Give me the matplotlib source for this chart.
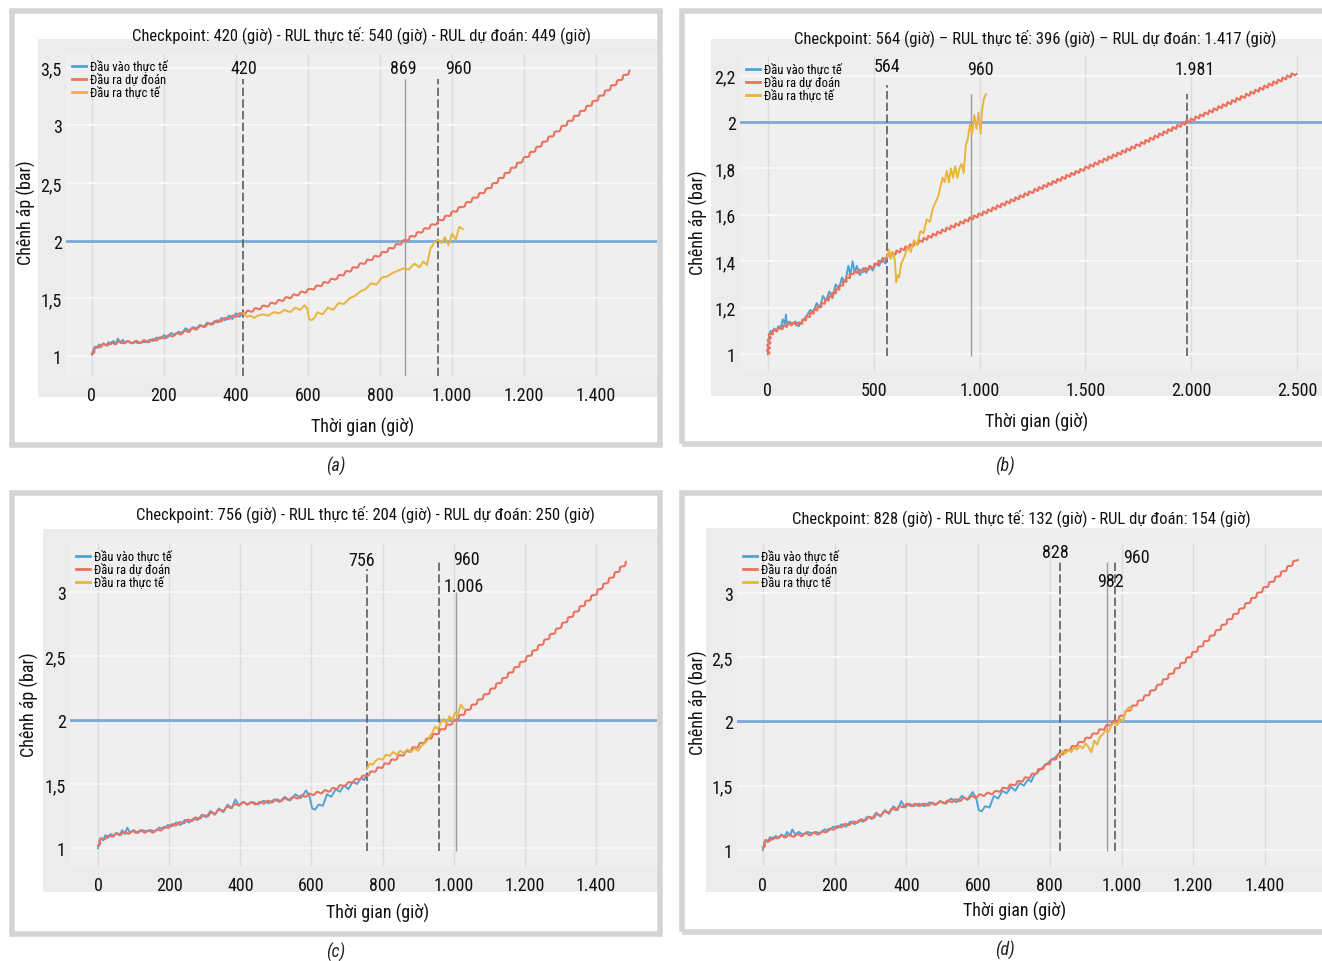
'''
Ve lai hinh 4 panel: chenh ap theo thoi gian, du doan RUL tai cac checkpoint
'''
import matplotlib
matplotlib.use('Agg')
import matplotlib.pyplot as plt
import matplotlib.font_manager as fm
from matplotlib.lines import Line2D
from matplotlib.patches import Rectangle

# ---------------- du lieu panel (a) ----------------
a_in_t = [0, 4, 8, 14, 20, 26, 32, 40, 46, 52, 60, 66, 72, 80, 86, 92, 100, 110, 120, 130,
          140, 150, 160, 170, 180, 190, 200, 210, 220, 230, 240, 250, 260, 270, 280, 290, 300, 310, 320, 330,
          340, 350, 360, 370, 380, 390, 400, 410, 420]
a_in_v = [1.01, 1.05, 1.08, 1.07, 1.10, 1.08, 1.11, 1.09, 1.12, 1.10, 1.13, 1.10, 1.15, 1.11, 1.14, 1.11, 1.13, 1.11, 1.12, 1.11,
          1.12, 1.12, 1.14, 1.13, 1.16, 1.15, 1.18, 1.16, 1.20, 1.18, 1.21, 1.20, 1.24, 1.22, 1.25, 1.24, 1.27, 1.25, 1.29, 1.27,
          1.30, 1.29, 1.33, 1.31, 1.35, 1.32, 1.37, 1.34, 1.38]
a_pred_t = [0, 15, 40, 80, 120, 160, 200, 250, 300, 350, 420, 480, 540, 610, 680, 744, 800, 869, 960, 1030,
            1100, 1200, 1300, 1400, 1494]
a_pred_v = [1.02, 1.08, 1.10, 1.12, 1.12, 1.13, 1.16, 1.20, 1.25, 1.30, 1.37, 1.43, 1.50, 1.58, 1.68, 1.79, 1.88, 2.00, 2.16, 2.30,
            2.45, 2.71, 2.97, 3.22, 3.47]
a_out_t = [420, 430, 440, 450, 460, 475, 490, 505, 520, 535, 550, 565, 578, 590, 598, 603, 610, 618, 626, 640,
           655, 670, 685, 700, 715, 730, 745, 760, 775, 790, 805, 820, 835, 850, 865, 880, 895, 910, 920, 930,
           940, 950, 960, 970, 980, 990, 1000, 1010, 1020, 1030]
a_out_v = [1.37, 1.34, 1.35, 1.33, 1.35, 1.36, 1.35, 1.38, 1.37, 1.40, 1.38, 1.42, 1.40, 1.44, 1.41, 1.32, 1.31, 1.33, 1.38, 1.36,
           1.42, 1.40, 1.46, 1.45, 1.50, 1.52, 1.56, 1.58, 1.63, 1.62, 1.68, 1.69, 1.72, 1.74, 1.76, 1.75, 1.80, 1.77, 1.82, 1.79,
           1.93, 1.98, 2.01, 1.98, 2.03, 1.96, 2.06, 2.01, 2.12, 2.10]
a_mark_x = [420, 869, 960]
a_mark_ls = ['--', '-', '--']
a_mark_top = [3.40, 3.40, 3.40]
a_lab_txt = ['420', '869', '960']
a_lab_x = [422, 864, 1017]
a_lab_y = [3.5, 3.5, 3.5]

# ---------------- du lieu panel (b) ----------------
b_in_t = [0, 3, 6, 12, 20, 30, 40, 50, 60, 70, 80, 85, 90, 100, 115, 130, 145, 160, 180, 200,
          215, 230, 245, 260, 275, 290, 305, 320, 335, 350, 365, 380, 390, 400, 410, 420, 435, 450, 465, 480,
          495, 510, 525, 540, 555, 564]
b_in_v = [1.00, 1.06, 1.08, 1.10, 1.09, 1.11, 1.10, 1.12, 1.11, 1.15, 1.13, 1.17, 1.12, 1.14, 1.13, 1.14, 1.12, 1.14, 1.16, 1.19,
          1.18, 1.22, 1.20, 1.25, 1.23, 1.27, 1.24, 1.30, 1.28, 1.33, 1.31, 1.38, 1.34, 1.40, 1.35, 1.38, 1.34, 1.37, 1.35, 1.38,
          1.36, 1.39, 1.38, 1.41, 1.39, 1.42]
b_pred_t = [0, 8, 30, 60, 100, 150, 200, 250, 300, 350, 400, 450, 500, 564, 800, 1000, 1250, 1500, 1750, 1981,
            2250, 2495]
b_pred_v = [1.00, 1.08, 1.10, 1.11, 1.13, 1.13, 1.17, 1.21, 1.25, 1.30, 1.35, 1.36, 1.38, 1.42, 1.52, 1.60, 1.70, 1.80, 1.90, 2.00,
            2.11, 2.21]
b_out_t = [564, 572, 580, 590, 600, 606, 612, 620, 630, 645, 660, 675, 690, 705, 720, 735, 750, 765, 780, 795,
           805, 815, 825, 835, 845, 855, 865, 875, 885, 895, 905, 915, 925, 935, 945, 955, 965, 975, 985, 995,
           1005, 1012, 1020, 1030]
b_out_v = [1.42, 1.45, 1.41, 1.44, 1.40, 1.31, 1.34, 1.33, 1.39, 1.42, 1.46, 1.44, 1.49, 1.47, 1.53, 1.52, 1.58, 1.57, 1.63, 1.66,
           1.68, 1.72, 1.76, 1.74, 1.79, 1.74, 1.80, 1.76, 1.81, 1.76, 1.80, 1.82, 1.78, 1.90, 1.93, 1.99, 1.95, 2.03, 1.97, 2.04,
           1.95, 2.05, 2.10, 2.12]
b_mark_x = [564, 960, 1981]
b_mark_ls = ['--', '-', '--']
b_mark_top = [2.16, 2.12, 2.12]
b_lab_txt = ['564', '960', '1.981']
b_lab_x = [562, 1002, 2018]
b_lab_y = [2.24, 2.23, 2.23]

# ---------------- du lieu dau vao chung cho panel (c), (d) ----------------
cd_in_t = [0, 4, 8, 14, 20, 28, 36, 44, 52, 60, 68, 76, 82, 90, 100, 112, 124, 136, 148, 160,
           172, 184, 196, 208, 220, 232, 244, 256, 268, 280, 292, 304, 316, 328, 340, 352, 364, 376, 386, 396,
           408, 420, 435, 450, 465, 480, 495, 510, 525, 540, 555, 570, 585, 595, 602, 610, 620, 632, 644, 656,
           668, 680, 692, 704, 716, 728, 740, 748, 756, 768, 780, 792, 804, 816, 828]
cd_in_v = [1.00, 1.05, 1.08, 1.06, 1.10, 1.08, 1.11, 1.09, 1.12, 1.10, 1.14, 1.11, 1.16, 1.12, 1.14, 1.12, 1.14, 1.13, 1.14, 1.13,
           1.16, 1.15, 1.18, 1.17, 1.20, 1.18, 1.22, 1.20, 1.23, 1.22, 1.26, 1.24, 1.29, 1.26, 1.31, 1.28, 1.34, 1.31, 1.38, 1.33,
           1.36, 1.34, 1.36, 1.34, 1.37, 1.35, 1.38, 1.36, 1.40, 1.37, 1.42, 1.39, 1.45, 1.40, 1.31, 1.30, 1.34, 1.33, 1.42, 1.40,
           1.46, 1.44, 1.49, 1.46, 1.52, 1.50, 1.55, 1.53, 1.58, 1.61, 1.64, 1.67, 1.70, 1.72, 1.76]

# ---------------- du lieu panel (c) ----------------
c_check = 756
c_pred_t = [0, 10, 40, 80, 120, 160, 200, 250, 300, 350, 400, 450, 500, 550, 600, 650, 700, 756, 800, 850,
            900, 960, 1006, 1100, 1200, 1300, 1400, 1486]
c_pred_v = [1.02, 1.07, 1.10, 1.12, 1.13, 1.13, 1.17, 1.21, 1.25, 1.30, 1.35, 1.35, 1.37, 1.39, 1.42, 1.45, 1.50, 1.57, 1.64, 1.72,
            1.80, 1.91, 2.00, 2.22, 2.47, 2.73, 2.99, 3.23]
c_out_t = [756, 764, 772, 780, 790, 800, 810, 820, 830, 840, 850, 860, 870, 880, 890, 900, 910, 920, 930, 940,
           948, 956, 964, 972, 980, 988, 996, 1004, 1012, 1020, 1028]
c_out_v = [1.62, 1.66, 1.65, 1.68, 1.70, 1.69, 1.73, 1.72, 1.75, 1.73, 1.76, 1.74, 1.77, 1.75, 1.78, 1.76, 1.80, 1.82, 1.86, 1.90,
           1.95, 1.93, 1.98, 2.01, 1.97, 2.03, 2.00, 2.06, 2.04, 2.12, 2.09]
c_mark_x = [756, 960, 1006]
c_mark_ls = ['--', '--', '-']
c_mark_top = [3.18, 3.24, 3.00]
c_lab_txt = ['756', '960', '1.006']
c_lab_x = [742, 1037, 1029]
c_lab_y = [3.25, 3.26, 3.05]

# ---------------- du lieu panel (d) ----------------
d_check = 828
d_pred_t = [0, 10, 40, 80, 120, 160, 200, 250, 300, 350, 400, 450, 500, 550, 600, 650, 700, 750, 800, 828,
            900, 982, 1100, 1200, 1300, 1400, 1490]
d_pred_v = [1.02, 1.07, 1.10, 1.11, 1.12, 1.13, 1.17, 1.21, 1.25, 1.30, 1.35, 1.35, 1.37, 1.39, 1.42, 1.45, 1.51, 1.58, 1.68, 1.74,
            1.86, 2.00, 2.27, 2.53, 2.79, 3.04, 3.26]
d_out_t = [828, 836, 844, 852, 860, 868, 876, 884, 892, 900, 908, 916, 924, 932, 940, 948, 956, 964, 972, 980,
           988, 996, 1004, 1012, 1020, 1028]
d_out_v = [1.74, 1.77, 1.75, 1.78, 1.76, 1.80, 1.78, 1.81, 1.79, 1.83, 1.80, 1.76, 1.85, 1.82, 1.88, 1.90, 1.93, 1.92, 1.97, 1.99,
           1.97, 2.02, 2.00, 2.08, 2.11, 2.09]
d_mark_x = [828, 960, 982]
d_mark_ls = ['--', '-', '--']
d_mark_top = [3.24, 3.24, 3.24]
d_lab_txt = ['828', '960', '982']
d_lab_x = [817, 1043, 968]
d_lab_y = [3.32, 3.28, 3.09]

# ---------------- chu, nhan truc ----------------
titles = ['Checkpoint: 420 (giờ) - RUL thực tế: 540 (giờ) - RUL dự đoán: 449 (giờ)',
          'Checkpoint: 564 (giờ) – RUL thực tế: 396 (giờ) – RUL dự đoán: 1.417 (giờ)',
          'Checkpoint: 756 (giờ) - RUL thực tế: 204 (giờ) - RUL dự đoán: 250 (giờ)',
          'Checkpoint: 828 (giờ) - RUL thực tế: 132 (giờ) - RUL dự đoán: 154 (giờ)']
captions = ['(a)', '(b)', '(c)', '(d)']
legend_names = ['Đầu vào thực tế', 'Đầu ra dự đoán', 'Đầu ra thực tế']
threshold = 2.0

xt_1400 = [0, 200, 400, 600, 800, 1000, 1200, 1400]
xl_1400 = ['0', '200', '400', '600', '800', '1.000', '1.200', '1.400']
xt_2500 = [0, 500, 1000, 1500, 2000, 2500]
xl_2500 = ['0', '500', '1.000', '1.500', '2.000', '2.500']
yt_a = [1, 1.5, 2, 2.5, 3, 3.5]
yl_a = ['1', '1,5', '2', '2,5', '3', '3,5']
yt_b = [1, 1.2, 1.4, 1.6, 1.8, 2, 2.2]
yl_b = ['1', '1,2', '1,4', '1,6', '1,8', '2', '2,2']
yt_cd = [1, 1.5, 2, 2.5, 3]
yl_cd = ['1', '1,5', '2', '2,5', '3']

c_blue = '#4ea3d8'
c_red = '#ea725f'
c_yel = '#e9b53c'
c_thr = '#7ba8d6'

W, H = 1322, 962


def pick_font():
    # chon font hep (condensed) neu co, khong thi dung Liberation Sans
    fl = fm.fontManager.ttflist
    for name in ['Liberation Sans Narrow', 'Roboto Condensed', 'Open Sans Condensed', 'Noto Sans Condensed']:
        if any(f.name == name for f in fl):
            return [name, 'DejaVu Sans'], 'normal', 1.0
    for name in ['DejaVu Sans', 'Noto Sans', 'Roboto', 'Open Sans']:
        if any(f.name == name and str(f.stretch) in ('condensed', 'semi-condensed') for f in fl):
            return [name, 'DejaVu Sans'], 'condensed', 0.95
    return ['Liberation Sans', 'DejaVu Sans'], 'normal', 0.86


FAMILY, STRETCH, FSCALE = pick_font()
plt.rcParams['font.family'] = FAMILY
plt.rcParams['font.stretch'] = STRETCH


def fs(x):
    return x * FSCALE


def fr(l, t, r, b):
    # toa do pixel -> phan so cua figure
    return [l / W, 1 - b / H, (r - l) / W, (b - t) / H]


def paint_panel(fig, lay, series, marks, ticks, title, caption):
    # khung xam ngoai va nen
    fx0, fy0, fx1, fy1 = lay['frame']
    fig.patches.append(Rectangle((fx0 / W, 1 - fy1 / H), (fx1 - fx0) / W, (fy1 - fy0) / H,
                                 transform=fig.transFigure, fill=False, edgecolor='#d4d4d4', lw=4, zorder=-2))
    gx0, gy0, gx1, gy1 = lay['bg']
    fig.patches.append(Rectangle((gx0 / W, 1 - gy1 / H), (gx1 - gx0) / W, (gy1 - gy0) / H,
                                 transform=fig.transFigure, facecolor='#ececec', edgecolor='none', zorder=-2))

    ax = fig.add_axes(fr(*lay['ax']))
    ax.set_facecolor('#efefef')
    for s in ax.spines.values():
        s.set_visible(False)

    xt, xl, yt, yl = ticks
    ax.set_xticks(xt)
    ax.set_xticklabels(xl)
    ax.set_yticks(yt)
    ax.set_yticklabels(yl)
    ax.tick_params(length=0, labelsize=fs(13), colors='#111111')
    ax.tick_params(axis='x', pad=7)
    ax.tick_params(axis='y', pad=3)
    ax.set_xlim(*lay['xlim'])
    ax.set_ylim(*lay['ylim'])
    for x in xt:
        ax.axvline(x, color='#dcdcdc', lw=1, zorder=0.5)
    for y in yt:
        ax.axhline(y, color='#f7f7f7', lw=1.5, zorder=0.5)

    ax.axhline(threshold, color=c_thr, lw=2, zorder=1.5)

    (it, iv), (pt, pv), (ot, ov) = series
    ax.plot(it, iv, color=c_blue, lw=1.4, zorder=2)
    ln, = ax.plot(pt, pv, color=c_red, lw=1.5, zorder=3)
    ln.set_sketch_params(scale=lay['wig'][0], length=lay['wig'][1], randomness=1)
    ax.plot(ot, ov, color=c_yel, lw=1.4, zorder=4)

    mx, mls, mtop, mbot, ltxt, lx, ly = marks
    for x, ls, top in zip(mx, mls, mtop):
        if ls == '--':
            ax.vlines(x, mbot, top, colors='#5e5e5e', linestyles=(0, (5, 2)), lw=1.2, zorder=2.5)
        else:
            ax.vlines(x, mbot, top, colors='#9c9c9c', linestyles='-', lw=1.0, zorder=2.5)
    for t, x, y in zip(ltxt, lx, ly):
        ax.text(x, y, t, ha='center', va='center', fontsize=fs(13), color='#111111')

    handles = [Line2D([], [], color=c, lw=2) for c in (c_blue, c_red, c_yel)]
    ax.legend(handles, legend_names, loc='upper left', bbox_to_anchor=(0.0, 1.0), frameon=False,
              fontsize=fs(9), handlelength=1.1, handletextpad=0.3, labelspacing=0.0,
              borderaxespad=0.3, borderpad=0.2)

    tx, ty = lay['title']
    fig.text(tx / W, 1 - ty / H, title, ha='center', va='center', fontsize=fs(12), color='#111111')
    xx, xy = lay['xlab']
    fig.text(xx / W, 1 - xy / H, 'Thời gian (giờ)', ha='center', va='center', fontsize=fs(13), color='#111111')
    yx, yy = lay['ylab']
    fig.text(yx / W, 1 - yy / H, 'Chênh áp (bar)', ha='center', va='center', rotation=90,
             fontsize=fs(13), color='#111111')
    cx, cy = lay['cap']
    fig.text(cx / W, 1 - cy / H, caption, ha='center', va='center', fontsize=fs(13), style='italic',
             color='#222222')


def main():
    fig = plt.figure(figsize=(W / 100, H / 100), dpi=100)

    lay_a = dict(frame=(12, 12, 660, 446), bg=(38, 40, 657, 398), ax=(66, 55, 657, 377),
                 xlim=(-72, 1569), ylim=(0.826, 3.62), wig=(1.2, 8),
                 title=(362, 35), xlab=(363, 427), ylab=(26, 213), cap=(336, 466))
    lay_b = dict(frame=(682, 12, 1335, 445), bg=(711, 40, 1322, 397), ax=(740, 58, 1322, 372),
                 xlim=(-132, 2618), ylim=(0.927, 2.28), wig=(1.6, 5),
                 title=(1035, 38), xlab=(1037, 422), ylab=(698, 223), cap=(1005, 466))
    lay_c = dict(frame=(12, 494, 660, 935), bg=(43, 530, 657, 893), ax=(70, 545, 657, 867),
                 xlim=(-79, 1572), ylim=(0.86, 3.375), wig=(1.2, 8),
                 title=(365, 514), xlab=(378, 913), ylab=(29, 705), cap=(336, 952))
    lay_d = dict(frame=(682, 494, 1335, 933), bg=(706, 529, 1322, 893), ax=(737, 545, 1322, 867),
                 xlim=(-72, 1559), ylim=(0.875, 3.38), wig=(1.2, 8),
                 title=(1021, 518), xlab=(1015, 911), ylab=(698, 703), cap=(1005, 950))

    c_in_t = [t for t in cd_in_t if t <= c_check]
    c_in_v = cd_in_v[:len(c_in_t)]
    d_in_t = [t for t in cd_in_t if t <= d_check]
    d_in_v = cd_in_v[:len(d_in_t)]

    paint_panel(fig, lay_a,
                [(a_in_t, a_in_v), (a_pred_t, a_pred_v), (a_out_t, a_out_v)],
                (a_mark_x, a_mark_ls, a_mark_top, 0.826, a_lab_txt, a_lab_x, a_lab_y),
                (xt_1400, xl_1400, yt_a, yl_a), titles[0], captions[0])
    paint_panel(fig, lay_b,
                [(b_in_t, b_in_v), (b_pred_t, b_pred_v), (b_out_t, b_out_v)],
                (b_mark_x, b_mark_ls, b_mark_top, 0.99, b_lab_txt, b_lab_x, b_lab_y),
                (xt_2500, xl_2500, yt_b, yl_b), titles[1], captions[1])
    paint_panel(fig, lay_c,
                [(c_in_t, c_in_v), (c_pred_t, c_pred_v), (c_out_t, c_out_v)],
                (c_mark_x, c_mark_ls, c_mark_top, 0.98, c_lab_txt, c_lab_x, c_lab_y),
                (xt_1400, xl_1400, yt_cd, yl_cd), titles[2], captions[2])
    paint_panel(fig, lay_d,
                [(d_in_t, d_in_v), (d_pred_t, d_pred_v), (d_out_t, d_out_v)],
                (d_mark_x, d_mark_ls, d_mark_top, 0.99, d_lab_txt, d_lab_x, d_lab_y),
                (xt_1400, xl_1400, yt_cd, yl_cd), titles[3], captions[3])

    fig.savefig('out.png', dpi=100)


if __name__ == "__main__":
    main()
